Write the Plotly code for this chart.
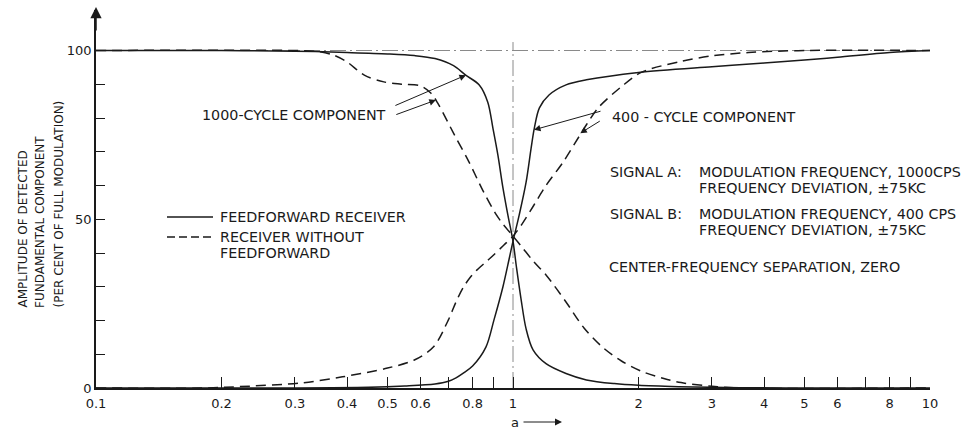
import math
import plotly.graph_objects as go

# ---------------- data ----------------
# Feedforward receiver, 1000-cycle component (solid, falling)
ff1000_a = [0.1, 0.2, 0.3, 0.4, 0.5, 0.58, 0.65, 0.72, 0.77, 0.83, 0.87, 0.895,
            0.92, 0.946, 0.973, 1.0, 1.02, 1.045, 1.075, 1.117, 1.2, 1.34, 1.5,
            1.75, 2.0, 2.5, 3.0, 3.5, 5.0, 10.0]
ff1000_y = [100, 100, 99.8, 99.4, 99.0, 98.5, 97.6, 95.5, 92.7, 89.8, 84.7, 77,
            69, 59.3, 51, 43.5, 35.5, 26.5, 17.5, 11.3, 7.2, 4.3, 2.4,
            1.3, 0.8, 0.4, 0.2, 0.1, 0, 0]

# Feedforward receiver, 400-cycle component (solid, rising)
ff400_a = [0.1, 0.3, 0.45, 0.55, 0.65, 0.70, 0.73, 0.76, 0.80, 0.861, 0.90, 0.946,
           0.978, 1.0, 1.035, 1.075, 1.105, 1.125, 1.157, 1.22, 1.34, 1.5, 2.0,
           3.0, 4.0, 5.0, 6.0, 8.0, 10.0]
ff400_y = [0, 0, 0.2, 0.6, 1.2, 2.0, 3.0, 4.4, 6.5, 12.1, 20.1, 30,
           38, 43.5, 51.3, 61, 71, 77, 83, 86.8, 89.8, 91.3, 93.5,
           95.2, 96.3, 97.2, 98.0, 99.4, 100]

# Receiver without feedforward, 1000-cycle component (dashed, falling)
nf1000_a = [0.1, 0.3, 0.34, 0.37, 0.40, 0.44, 0.49, 0.54, 0.60, 0.635, 0.66, 0.72,
            0.784, 0.847, 0.91, 0.95, 1.0, 1.05, 1.12, 1.2, 1.34, 1.48, 1.65, 1.82,
            2.03, 2.3, 2.53, 3.0, 3.5, 10.0]
nf1000_y = [100, 100, 99.7, 98.7, 96.6, 92.7, 90.7, 90.0, 89.5, 87.4, 84.4, 75.5,
            67, 58.5, 51.5, 48.3, 45, 41.8, 37.5, 33.5, 25.5, 17.8, 11.8, 8.0,
            5.0, 2.8, 1.6, 0.5, 0, 0]

# Receiver without feedforward, 400-cycle component (dashed, rising)
nf400_a = [0.1, 0.18, 0.22, 0.31, 0.39, 0.50, 0.58, 0.645, 0.70, 0.73, 0.76, 0.79,
           0.82, 0.86, 0.90, 0.95, 1.0, 1.05, 1.12, 1.2, 1.32, 1.44, 1.50, 1.60, 1.82,
           2.03, 2.53, 3.0, 3.67, 5.0, 10.0]
nf400_y = [0, 0, 0.4, 1.5, 3.3, 5.9, 8.3, 12.2, 20.2, 25.5, 29.8, 32.8,
           35, 37.3, 39.5, 42.3, 45, 48.5, 54, 60, 67, 74.5, 78, 83, 89.3,
           93.5, 96.8, 98.4, 99.4, 100, 100]

# reference (dash-dot) lines
ref_h_a = [0.1, 10.0]
ref_h_y = [100, 100]
ref_v_a = [1.0, 1.0]
ref_v_y = [0, 102.5]

x_tickvals = [0.1, 0.2, 0.3, 0.4, 0.5, 0.6, 0.7, 0.8, 0.9, 1, 2, 3, 4, 5, 6, 7, 8, 9, 10]
x_ticktext = ["0.1", "0.2", "0.3", "0.4", "0.5", "0.6", "", "0.8", "", "1",
              "2", "3", "4", "5", "6", "", "8", "", "10"]
y_tickvals = [0, 10, 20, 30, 40, 50, 60, 70, 80, 90, 100]
y_ticktext = ["0", "", "", "", "", "50", "", "", "", "", "100"]

# ---------------- figure ----------------
W, H = 966, 432
L, R, T, B = 96, 36, 10, 44
PW, PH = W - L - R, H - T - B


def px(x):
    return (x - L) / PW


def py(y):
    return (H - B - y) / PH


INK = "#1a1a1a"
FONT = "DejaVu Sans"
DASH = "10px,6px"
TS = 14.3

fig = go.Figure()
fig.add_trace(go.Scatter(x=ref_h_a, y=ref_h_y, mode="lines",
                         line=dict(color="#8a8a8a", width=1, dash="16px,4px,2px,4px"),
                         hoverinfo="skip", showlegend=False))
fig.add_trace(go.Scatter(x=ref_v_a, y=ref_v_y, mode="lines",
                         line=dict(color="#8a8a8a", width=1, dash="16px,4px,2px,4px"),
                         hoverinfo="skip", showlegend=False))

for xs, ys, dash in [(ff1000_a, ff1000_y, "solid"), (ff400_a, ff400_y, "solid"),
                     (nf1000_a, nf1000_y, DASH), (nf400_a, nf400_y, DASH)]:
    fig.add_trace(go.Scatter(x=xs, y=ys, mode="lines",
                             line=dict(color=INK, width=1.5, dash=dash,
                                       shape="spline", smoothing=0.9),
                             showlegend=False))

ann = []


def text(x, y, s, size=TS, xanchor="left", **kw):
    ann.append(dict(xref="paper", yref="paper", x=px(x), y=py(y), text=s,
                    showarrow=False, xanchor=xanchor, yanchor="middle",
                    font=dict(family=FONT, size=size, color=INK), **kw))


def arrow_data(a, yv, ax, ay):
    ann.append(dict(xref="x", yref="y", x=math.log10(a), y=yv, text="",
                    showarrow=True, ax=ax, ay=ay, arrowhead=2, arrowsize=1.3,
                    arrowwidth=1, arrowcolor=INK))


def arrow_paper(x, y, ax, ay, size=1.3, width=1):
    ann.append(dict(xref="paper", yref="paper", x=px(x), y=py(y), text="",
                    showarrow=True, ax=ax, ay=ay, arrowhead=2, arrowsize=size,
                    arrowwidth=width, arrowcolor=INK))


# curve labels
text(200, 115, "1000-CYCLE COMPONENT")
arrow_data(0.771, 92.7, -72, 31)
arrow_data(0.653, 85.3, -41, 15)

text(610, 117, "400 - CYCLE COMPONENT")
arrow_data(1.123, 76.5, 68, -19)
arrow_data(1.45, 75.5, 21, -13)

# legend
text(218, 217, "FEEDFORWARD RECEIVER")
text(218, 237, "RECEIVER WITHOUT")
text(218, 253, "FEEDFORWARD")

# conditions
text(608, 172, "SIGNAL A:")
text(697, 172, "MODULATION FREQUENCY, 1000CPS")
text(697, 188, "FREQUENCY DEVIATION, \u00b175KC")
text(608, 214, "SIGNAL B:")
text(697, 214, "MODULATION FREQUENCY, 400 CPS")
text(697, 230, "FREQUENCY DEVIATION, \u00b175KC")
text(607, 267, "CENTER-FREQUENCY SEPARATION, ZERO")

# y-axis title (three rotated lines, bottom aligned)
for xc, s in [(22, "AMPLITUDE OF DETECTED"), (40, "FUNDAMENTAL COMPONENT"),
              (58, "(PER CENT OF FULL MODULATION)")]:
    ann.append(dict(xref="paper", yref="paper", x=px(xc), y=py(310), text=s,
                    showarrow=False, textangle=-90, xanchor="center",
                    yanchor="bottom",
                    font=dict(family=FONT, size=12, color=INK)))

# x-axis label "a ->"
text(515, 422, "a", size=13, xanchor="center")
arrow_paper(562, 422, -40, 0, size=1.4, width=1)

# y-axis arrow at top
arrow_paper(96, 7, 0, 25, size=1.5, width=1.5)

shapes = [
    dict(type="line", xref="paper", yref="paper", x0=px(167), x1=px(213),
         y0=py(217), y1=py(217), line=dict(color=INK, width=1.5)),
    dict(type="line", xref="paper", yref="paper", x0=px(167), x1=px(213),
         y0=py(237), y1=py(237), line=dict(color=INK, width=1.5, dash="8px,4px")),
]

fig.update_layout(
    width=W, height=H, autosize=False,
    margin=dict(l=L, r=R, t=T, b=B),
    paper_bgcolor="white", plot_bgcolor="white",
    showlegend=False,
    annotations=ann, shapes=shapes,
    xaxis=dict(type="log", range=[-1, 1], showgrid=False, zeroline=False,
               showline=True, linecolor=INK, linewidth=1.5,
               ticks="inside", ticklen=11, tickwidth=1, tickcolor=INK,
               tickvals=x_tickvals, ticktext=x_ticktext, ticklabelstandoff=3,
               tickfont=dict(family=FONT, size=13, color=INK)),
    yaxis=dict(range=[0, 112], showgrid=False, zeroline=False,
               showline=True, linecolor=INK, linewidth=1.5,
               ticks="inside", ticklen=9, tickwidth=1, tickcolor=INK,
               tickvals=y_tickvals, ticktext=y_ticktext,
               tickfont=dict(family=FONT, size=13, color=INK)),
)

fig.write_html("out.html")
